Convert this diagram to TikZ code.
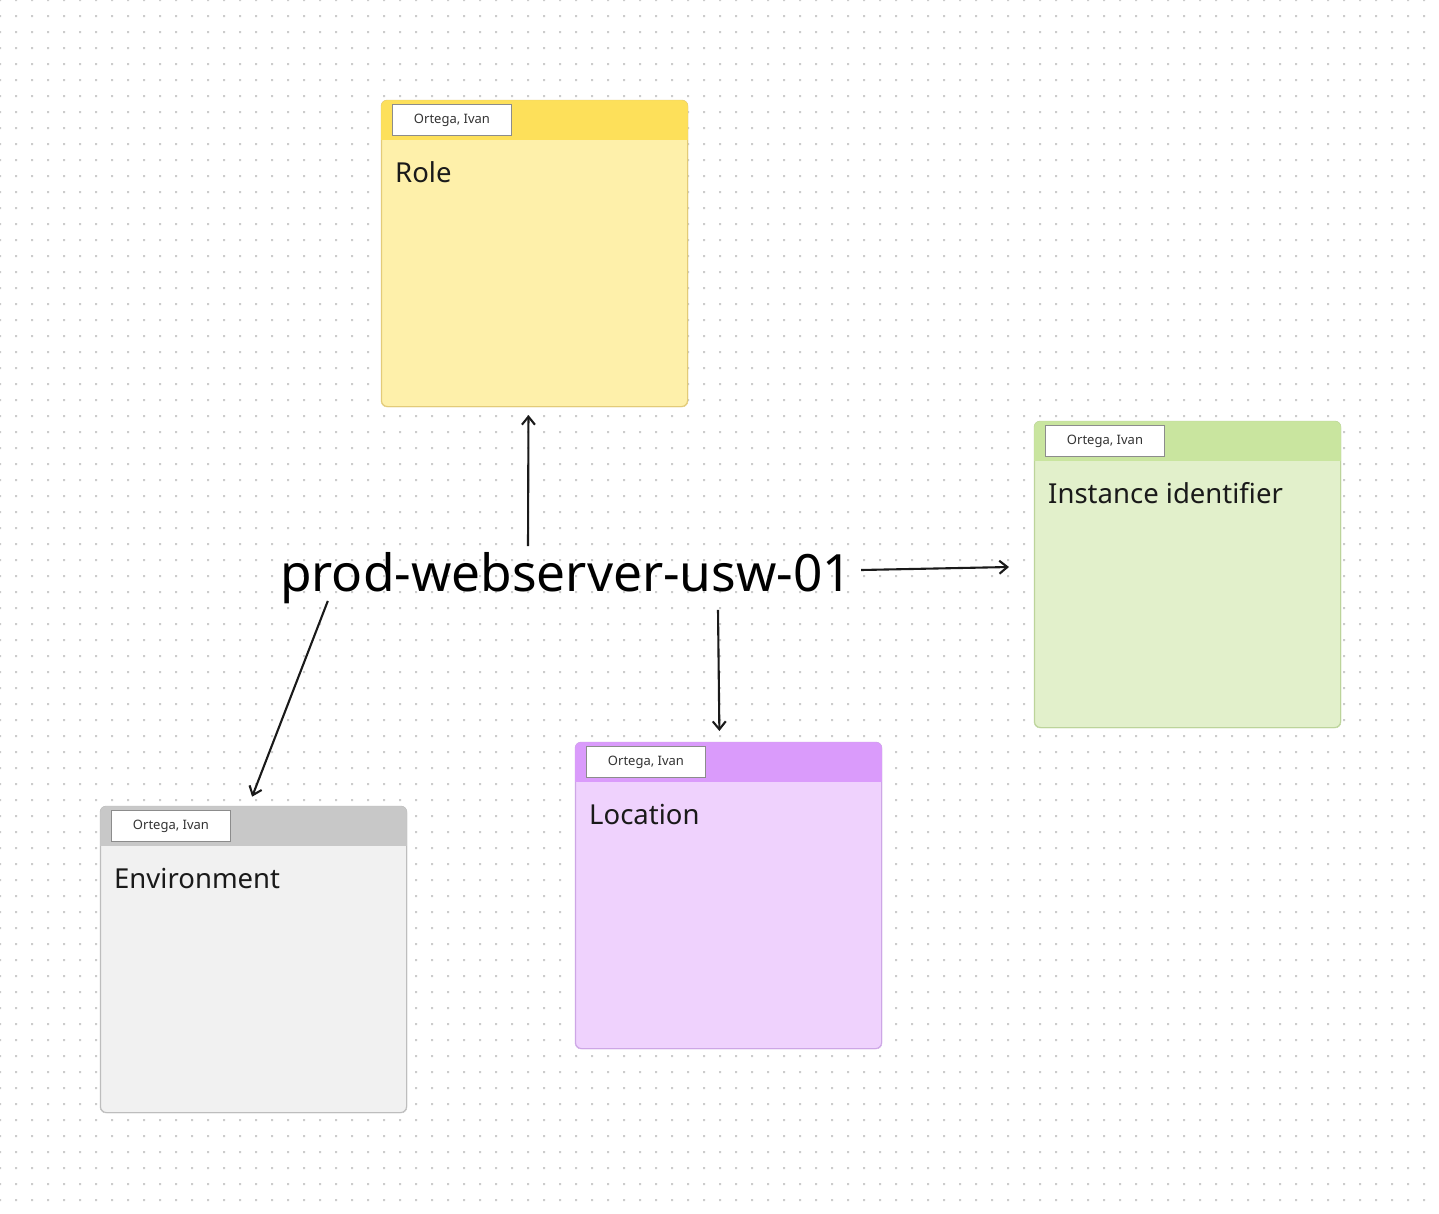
\documentclass[tikz,border=0pt]{standalone}
\usepackage{fontspec}
\setmainfont{Noto Sans}
\usetikzlibrary{arrows.meta, positioning, calc}

\definecolor{dotgray}{HTML}{CCCCCC}
\definecolor{inkc}{HTML}{1A1A1A}
\definecolor{tagedge}{HTML}{8C8C8C}
\definecolor{headY}{HTML}{FDE05A}
\definecolor{bodyY}{HTML}{FEF0AA}
\definecolor{edgeY}{HTML}{E3CB78}
\definecolor{headG}{HTML}{C9E59F}
\definecolor{bodyG}{HTML}{E2F0CB}
\definecolor{edgeG}{HTML}{BCD49A}
\definecolor{headP}{HTML}{DA9BFB}
\definecolor{bodyP}{HTML}{EFD2FD}
\definecolor{edgeP}{HTML}{CDA6E6}
\definecolor{headE}{HTML}{C8C8C8}
\definecolor{bodyE}{HTML}{F1F1F1}
\definecolor{edgeE}{HTML}{BDBDBD}

% one sticky note: name, top-left, head, body, edge, label
\newcommand{\stickynote}[6]{%
  \node[note, anchor=north west, fill=#4, draw=#5] (#1) at (#2) {};
  \begin{scope}
    \clip[rounded corners=6pt] (#1.north west) rectangle (#1.south east);
    \fill[#3] (#1.north west) rectangle ([yshift=-40pt]#1.north east);
  \end{scope}
  \draw[#5, rounded corners=6pt] (#1.north west) rectangle (#1.south east);
  \node[tag, anchor=north west] (#1-tag) at ([xshift=11pt,yshift=-4pt]#1.north west) {Ortega, Ivan};
  \node[notelabel, anchor=base west] (#1-label) at ([xshift=14pt,yshift=-82pt]#1.north west) {#6};
}

\begin{document}
\begin{tikzpicture}[x=1pt, y=-1pt,
    note/.style={minimum width=306pt, minimum height=306pt, inner sep=0pt, rounded corners=6pt, line width=1pt},
    tag/.style={fill=white, draw=tagedge, line width=1pt, minimum width=119pt, minimum height=31pt, inner sep=0pt, text=black!80, font=\fontsize{13}{13}\selectfont},
    notelabel/.style={inner sep=0pt, text=inkc, font=\fontsize{27.5}{27.5}\selectfont},
    link/.style={draw=inkc, line width=2.1pt, -{Straight Barb[length=8pt, width=13pt, line width=2.1pt]}}]
    \useasboundingbox (0,0) rectangle (1439,1213);
    \fill[white] (0,0) rectangle (1439,1213);

    % dot grid
    \fill[dotgray] \foreach \x in {-1,15,...,1439} {\foreach \y in {-1,15,...,1213} {(\x,\y) rectangle ++(2,2)}};

    % the four notes
    \stickynote{role}{381,100}{headY}{bodyY}{edgeY}{Role}
    \stickynote{inst}{1034,421}{headG}{bodyG}{edgeG}{Instance identifier}
    \stickynote{loc}{575,742}{headP}{bodyP}{edgeP}{Location}
    \stickynote{env}{100,806}{headE}{bodyE}{edgeE}{Environment}

    \node[inner sep=6pt, text=black, font=\fontsize{51.4}{51.4}\selectfont] (main) at (566,578) {prod-webserver-usw-01};

    \draw[link, shorten >=8pt] ([xshift=-38pt]main.north) -- ([xshift=-6pt]role.south);
    \draw[link, shorten >=25pt] ([xshift=3pt,yshift=8pt]main.east) -- ([yshift=8pt]inst.west);
    \draw[link, shorten >=11pt] ([xshift=152pt]main.south) -- ([xshift=-9pt]loc.north);
    \draw[link, shorten >=10pt] ([xshift=54pt,yshift=9pt]main.south west) -- ([xshift=-5pt]env.north);
\end{tikzpicture}
\end{document}
